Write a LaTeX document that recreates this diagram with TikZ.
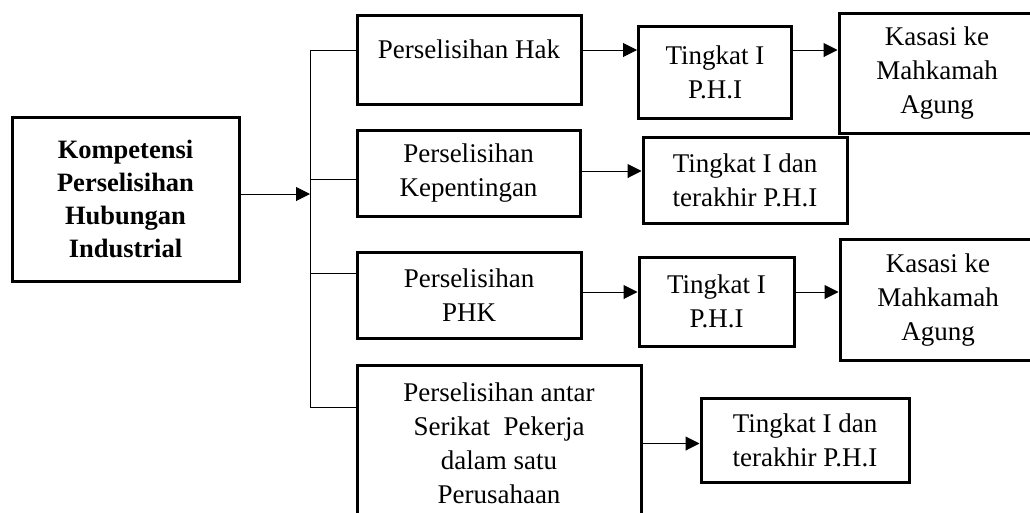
\documentclass[tikz,border=0pt]{standalone}
\usepackage{fontspec}
\setmainfont{Liberation Serif}
\usetikzlibrary{arrows.meta}
\tikzset{
  box/.style={draw,line width=3pt,align=center,inner sep=0pt,font=\fontsize{27}{34}\selectfont},
  arr/.style={line width=1pt,-{Triangle[length=14pt,width=14pt]}}
}
\begin{document}
\begin{tikzpicture}[x=1pt,y=-1pt]
      \useasboundingbox (0,0) rectangle (1030,512);
      \node[box,minimum width=227pt,minimum height=164pt,font=\fontsize{26.5}{33}\selectfont\bfseries] (main) at (125.5,199) {Kompetensi\\Perselisihan\\Hubungan\\Industrial};
      \node[box,minimum width=224pt,minimum height=89pt,text depth=21pt] (hak) at (469,59.5) {Perselisihan Hak};
      \node[box,minimum width=223pt,minimum height=86pt] (kep) at (468.5,173) {Perselisihan\\Kepentingan};
      \node[box,minimum width=224pt,minimum height=86pt] (phk) at (469,295) {Perselisihan\\PHK};
      \node[box,minimum width=284pt,minimum height=157pt] (antar) at (499,443.5) {Perselisihan antar\\Serikat\ \ Pekerja\\dalam satu\\Perusahaan};
      \node[box,minimum width=153pt,minimum height=92pt] (hakphi) at (715,72) {Tingkat I\\P.H.I};
      \node[box,minimum width=196pt,minimum height=120pt] (hakma) at (937,73) {Kasasi ke\\Mahkamah\\Agung};
      \node[box,minimum width=204pt,minimum height=86pt] (kepphi) at (745,180) {Tingkat I dan\\terakhir P.H.I};
      \node[box,minimum width=155pt,minimum height=89pt] (phkphi) at (716.5,301.5) {Tingkat I\\P.H.I};
      \node[box,minimum width=196pt,minimum height=121pt] (phkma) at (938,300) {Kasasi ke\\Mahkamah\\Agung};
      \node[box,minimum width=208pt,minimum height=84pt] (antarphi) at (805,440) {Tingkat I dan\\terakhir P.H.I};
      % bus
      \coordinate (b1) at (310,50);
      \coordinate (b2) at (310,179);
      \coordinate (b3) at (310,273);
      \coordinate (b4) at (310,407);
      \draw[arr] ([yshift=5pt]main.east) -- ([yshift=5pt]main.east -| b1);
      \draw[line width=1pt] (b1) -- (b4);
      \draw[line width=1pt] (b1) -- (b1 -| hak.west);
      \draw[line width=1pt] (b2) -- (b2 -| kep.west);
      \draw[line width=1pt] (b3) -- (b3 -| phk.west);
      \draw[line width=1pt] (b4) -- (b4 -| antar.west);
      % rows
      \draw[arr] (b1 -| hak.east) -- (b1 -| hakphi.west);
      \draw[arr] (b1 -| hakphi.east) -- (b1 -| hakma.west);
      \draw[arr] ([yshift=2pt]kep.east) -- ([yshift=2pt]kep.east -| kepphi.west);
      \draw[arr] ([yshift=3pt]phk.east) -- ([yshift=3pt]phk.east -| phkphi.west);
      \draw[arr] ([yshift=3pt]phk.east -| phkphi.east) -- ([yshift=3pt]phk.east -| phkma.west);
      \draw[arr] (antar.east) -- (antar.east -| antarphi.west);
    \end{tikzpicture}
\end{document}
